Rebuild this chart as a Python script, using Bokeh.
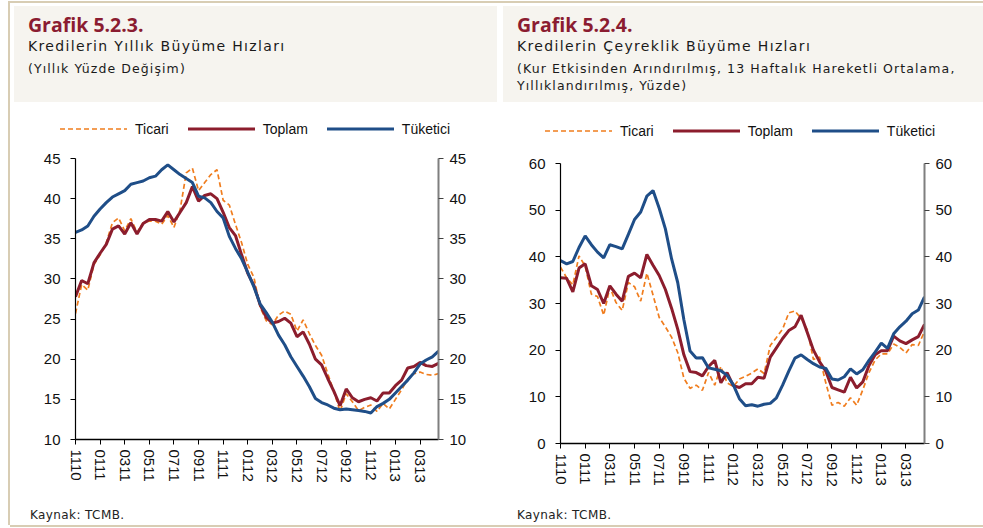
from bokeh.plotting import figure
from bokeh.models import (Range1d, LinearAxis, FixedTicker, Div, ColumnDataSource)
from bokeh.layouts import row, column
from bokeh.embed import file_html
from bokeh.resources import INLINE

# ---------------- data ----------------
# x position: months since November 2010 (half-month steps)
months = [i * 0.5 for i in range(60)]
tick_pos = [0, 2, 4, 6, 8, 10, 12, 14, 16, 18, 20, 22, 24, 26, 28]
tick_labels = ["1110", "0111", "0311", "0511", "0711", "0911", "1111", "0112",
               "0312", "0512", "0712", "0912", "1112", "0113", "0313"]

# Grafik 5.2.3 - annual growth (%)
ann_ticari = [25.7, 29.3, 28.6, 31.8, 33.0, 34.5, 37.0, 37.6, 36.0, 37.5,
              35.8, 37.0, 37.2, 37.2, 36.8, 37.9, 36.4, 38.6, 43.2, 43.8,
              41.0, 42.0, 43.0, 43.6, 39.8, 39.2, 36.8, 34.5, 31.8, 30.2,
              26.5, 24.8, 24.3, 25.5, 26.0, 25.6, 23.5, 24.9, 23.2, 21.7,
              20.5, 18.2, 16.0, 13.5, 15.7, 14.7, 13.6, 14.0, 14.3, 13.5,
              14.5, 13.8, 15.0, 16.2, 17.5, 18.2, 18.4, 18.1, 18.0, 18.2]
ann_toplam = [27.8, 29.8, 29.4, 32.0, 33.2, 34.3, 36.2, 36.6, 35.6, 37.0,
              35.6, 36.9, 37.4, 37.4, 37.2, 38.4, 37.1, 38.3, 39.5, 41.5,
              39.7, 40.4, 40.6, 40.0, 38.3, 36.4, 35.4, 33.0, 30.7, 29.2,
              26.8, 25.2, 24.5, 24.7, 25.1, 24.5, 22.8, 23.4, 21.9, 20.0,
              19.3, 17.6, 16.0, 14.2, 16.3, 15.2, 14.7, 15.0, 15.2, 14.8,
              15.8, 15.8, 16.7, 17.4, 18.9, 19.1, 19.6, 19.2, 19.1, 19.5]
ann_tuketici = [35.8, 36.1, 36.6, 37.8, 38.7, 39.5, 40.2, 40.6, 41.0, 41.8,
                42.0, 42.2, 42.6, 42.8, 43.6, 44.2, 43.6, 43.0, 42.5, 42.0,
                40.3, 40.1, 39.5, 38.4, 37.6, 35.3, 33.8, 32.5, 30.8, 29.0,
                26.9, 25.8, 24.6, 23.0, 21.8, 20.3, 19.1, 17.9, 16.6, 15.1,
                14.6, 14.3, 13.9, 13.7, 13.8, 13.7, 13.6, 13.5, 13.3, 14.1,
                14.5, 15.0, 15.8, 16.6, 17.4, 18.3, 19.4, 19.9, 20.3, 21.0]

# Grafik 5.2.4 - quarterly growth, annualised (%)
q_ticari = [37.8, 35.5, 34.0, 40.2, 38.0, 32.0, 31.5, 27.5, 33.5, 30.2,
            28.5, 34.5, 33.6, 30.5, 36.5, 31.8, 27.0, 25.0, 22.8, 19.5,
            14.0, 11.8, 12.5, 11.4, 15.2, 12.5, 16.5, 13.0, 12.2, 13.8,
            14.4, 15.1, 16.0, 15.0, 21.0, 22.7, 24.5, 28.0, 28.4, 26.8,
            24.4, 18.0, 18.5, 13.0, 8.2, 8.8, 8.0, 9.8, 8.2, 11.5,
            15.2, 17.9, 19.2, 19.2, 21.3, 20.6, 19.4, 21.2, 21.0, 24.0]
q_toplam = [35.5, 35.4, 32.5, 37.6, 38.5, 33.8, 33.0, 30.0, 33.8, 32.0,
            30.5, 35.8, 36.5, 35.5, 40.5, 38.2, 36.0, 33.0, 29.0, 24.5,
            19.0, 15.4, 15.2, 14.5, 16.5, 17.8, 13.0, 15.2, 12.4, 12.0,
            12.8, 12.8, 14.2, 14.0, 18.5, 20.5, 22.5, 24.2, 25.0, 27.5,
            23.8, 20.0, 17.5, 15.5, 12.0, 11.5, 11.0, 14.2, 11.9, 13.2,
            16.7, 19.0, 19.9, 19.9, 23.0, 22.0, 21.4, 22.2, 22.9, 25.5]
q_tuketici = [39.2, 38.5, 39.0, 42.0, 44.5, 42.6, 41.0, 39.8, 42.6, 42.2,
              41.7, 44.8, 48.0, 49.6, 53.0, 54.2, 50.4, 46.0, 39.6, 34.5,
              26.5, 19.8, 18.3, 18.4, 16.2, 15.9, 15.6, 14.6, 12.6, 9.6,
              8.1, 8.3, 8.0, 8.4, 8.6, 9.8, 12.5, 15.5, 18.3, 19.0,
              18.0, 17.1, 16.4, 16.1, 13.8, 13.6, 14.3, 16.0, 14.9, 15.8,
              17.8, 19.6, 21.5, 20.4, 23.5, 25.0, 26.2, 27.8, 28.6, 31.4]

series_names = ["Ticari", "Toplam", "Tüketici"]

ORANGE = "#F07D1E"
RED = "#8C1D2D"
BLUE = "#1F4E88"
TITLE_RED = "#8B1C31"
FRAME = "#D8CDB4"
BOX = "#F6F4EF"
AX_FONT = "Liberation Sans"

STYLES = [dict(line_color=ORANGE, line_width=1.7, line_dash="5 3"),
          dict(line_color=RED, line_width=3),
          dict(line_color=BLUE, line_width=3)]


def style_axis(ax, color, width, standoff, tick_color):
    ax.major_tick_out = 5
    ax.major_tick_in = 0
    ax.minor_tick_out = 0
    ax.minor_tick_in = 0
    ax.axis_line_color = color
    ax.axis_line_width = width
    ax.major_tick_line_color = tick_color
    ax.major_label_standoff = standoff
    ax.major_label_text_font = AX_FONT
    ax.major_label_text_font_size = "15px"
    ax.major_label_text_color = "#111111"


def make_chart(width, bl, br, bt, bb, y0, y1, yticks, src):
    p = figure(width=width, height=358, x_range=Range1d(0, 29.5),
               y_range=Range1d(y0, y1), output_backend="svg",
               toolbar_location=None, min_border_left=bl, min_border_right=br,
               min_border_top=bt, min_border_bottom=bb,
               outline_line_color=None, background_fill_color="white",
               border_fill_color="white", margin=0)
    p.xgrid.visible = False
    p.ygrid.visible = False
    for col, st in zip(["tic", "top", "tuk"], STYLES):
        p.line("x", col, source=src, **st)

    xa = p.xaxis[0]
    xa.ticker = FixedTicker(ticks=tick_pos)
    xa.major_label_overrides = {t: l for t, l in zip(tick_pos, tick_labels)}
    xa.major_label_orientation = "vertical"
    style_axis(xa, "black", 1.5, 5, "black")

    ya = p.yaxis[0]
    ya.ticker = FixedTicker(ticks=yticks)
    style_axis(ya, "black", 1.2, 10, "black")

    ra = LinearAxis(ticker=FixedTicker(ticks=yticks))
    style_axis(ra, "#7F7F7F", 2, 6, "#404040")
    p.add_layout(ra, "right")
    return p


def legend_div(width, left, cy):
    items = ""
    for i, (name, st) in enumerate(zip(series_names, STYLES)):
        dash = (f' stroke-dasharray="{st["line_dash"]}"' if "line_dash" in st else "")
        ml = "0px" if i == 0 else "19px"
        items += (f'<div style="display:flex;align-items:center;margin-left:{ml};">'
                  f'<svg width="67" height="20" style="display:block;">'
                  f'<line x1="0" y1="10" x2="67" y2="10" stroke="{st["line_color"]}" '
                  f'stroke-width="{st["line_width"]}"{dash}/></svg>'
                  f'<span style="margin-left:8px;font-family:\'{AX_FONT}\',sans-serif;'
                  f'font-size:14px;line-height:20px;color:#111111;white-space:nowrap;">'
                  f'{name}</span></div>')
    html = (f'<div style="position:relative;width:{width}px;height:40px;">'
            f'<div style="position:absolute;left:{left}px;top:{cy - 10}px;height:20px;'
            f'display:flex;align-items:center;">{items}</div></div>')
    return Div(text=html, width=width, height=40, margin=0)


def header(width, box_left, box_width, lines):
    inner = (f'<div style="font-family:\'Open Sans\',sans-serif;font-size:19.5px;'
             f'font-weight:700;color:{TITLE_RED};line-height:24px;">{lines[0]}</div>'
             f'<div style="font-family:\'DejaVu Sans\',sans-serif;font-size:14px;'
             f'line-height:18px;letter-spacing:1.35px;">{lines[1]}</div>')
    first = True
    for ln in lines[2:]:
        mt = "5px" if first else "0px"
        inner += (f'<div style="font-family:\'DejaVu Sans\',sans-serif;font-size:12.5px;'
                  f'line-height:17px;letter-spacing:1.1px;margin-top:{mt};">{ln}</div>')
        first = False
    html = (f'<div style="position:relative;width:{width}px;height:104px;overflow:hidden;">'
            f'<div style="position:absolute;left:0px;top:1px;width:{width}px;height:2px;'
            f'background:{FRAME};"></div>'
            f'<div style="position:absolute;left:{box_left}px;top:6px;width:{box_width}px;'
            f'height:96px;background:{BOX};box-sizing:border-box;padding:7px 0 0 14px;'
            f'color:#1A1A1A;white-space:nowrap;">{inner}</div></div>')
    return Div(text=html, width=width, height=104, margin=0)


def footer(width, pad):
    html = (f'<div style="position:relative;width:{width}px;height:26px;overflow:hidden;">'
            f'<div style="position:absolute;left:{pad}px;top:6px;font-family:\'DejaVu Sans\','
            f'sans-serif;font-size:12px;letter-spacing:0.4px;line-height:14px;'
            f'color:#222222;white-space:nowrap;">Kaynak: TCMB.</div>'
            f'<div style="position:absolute;left:0px;top:23px;width:{width}px;height:2px;'
            f'background:{FRAME};"></div></div>')
    return Div(text=html, width=width, height=26, margin=0)


edge = Div(text=(f'<div style="position:relative;width:10px;height:528px;">'
                 f'<div style="position:absolute;left:8px;top:1px;width:2px;height:524px;'
                 f'background:{FRAME};"></div></div>'), width=10, height=528, margin=0)

src1 = ColumnDataSource(dict(x=months, tic=ann_ticari, top=ann_toplam, tuk=ann_tuketici))
src2 = ColumnDataSource(dict(x=months, tic=q_ticari, top=q_toplam, tuk=q_tuketici))

p1 = make_chart(488, 65, 60, 14, 63, 10, 45, [10, 15, 20, 25, 30, 35, 40, 45], src1)
p2 = make_chart(485, 62, 59, 19, 59, 0, 60, [0, 10, 20, 30, 40, 50, 60], src2)
l1 = legend_div(488, 50, 25)
l2 = legend_div(485, 47, 27)

h1 = header(488, 4, 483, ["Grafik 5.2.3.", "Kredilerin Yıllık Büyüme Hızları",
                          "(Yıllık Yüzde Değişim)"])
h2 = header(485, 5, 480, ["Grafik 5.2.4.", "Kredilerin Çeyreklik Büyüme Hızları",
                          "(Kur Etkisinden Arındırılmış, 13 Haftalık Hareketli Ortalama,",
                          "Yıllıklandırılmış, Yüzde)"])
f1 = footer(488, 20)
f2 = footer(485, 19)

layout = row(edge, column(h1, l1, p1, f1, margin=0),
             column(h2, l2, p2, f2, margin=0), margin=0)

with open("out.html", "w") as fh:
    fh.write(file_html(layout, INLINE))
